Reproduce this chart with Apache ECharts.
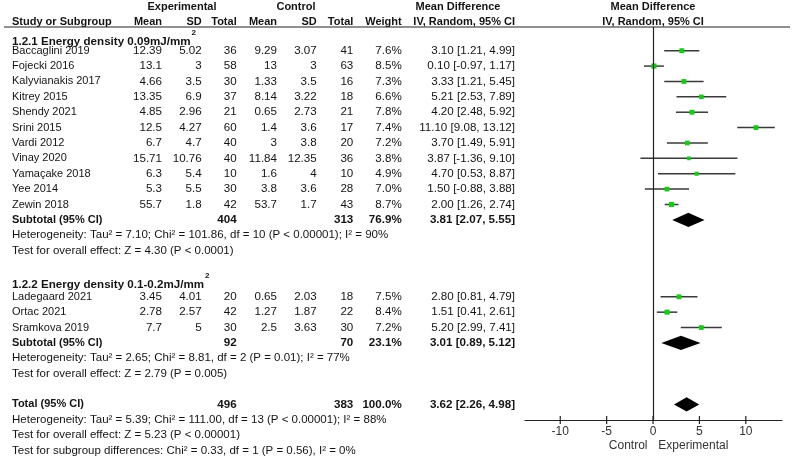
<!DOCTYPE html>
<html>
<head>
<meta charset="utf-8">
<script src="https://cdn.jsdelivr.net/npm/echarts@6/dist/echarts.min.js"></script>
<style>html,body{margin:0;padding:0;background:#fff}#c{width:794px;height:461px}</style>
</head>
<body>
<div id="c"></div>
<script>
// ---------------- DATA ----------------
const studies = ['Baccaglini 2019','Fojecki 2016','Kalyvianakis 2017','Kitrey 2015','Shendy 2021','Srini 2015','Vardi 2012','Vinay 2020','Yamaçake 2018','Yee 2014','Zewin 2018','Ladegaard 2021','Ortac 2021','Sramkova 2019'];
const studyRows = [0,1,2,3,4,5,6,7,8,9,10,16,17,18];
const expMean = [12.39,13.1,4.66,13.35,4.85,12.5,6.7,15.71,6.3,5.3,55.7,3.45,2.78,7.7];
const expSD = [5.02,3,3.5,6.9,2.96,4.27,4.7,10.76,5.4,5.5,1.8,4.01,2.57,5];
const expN = [36,58,30,37,21,60,40,40,10,30,42,20,42,30];
const ctrlMean = [9.29,13,1.33,8.14,0.65,1.4,3,11.84,1.6,3.8,53.7,0.65,1.27,2.5];
const ctrlSD = [3.07,3,3.5,3.22,2.73,3.6,3.8,12.35,4,3.6,1.7,2.03,1.87,3.63];
const ctrlN = [41,63,16,18,21,17,20,36,10,28,43,18,22,30];
const weights = [7.6,8.5,7.3,6.6,7.8,7.4,7.2,3.8,4.9,7.0,8.7,7.5,8.4,7.2];
const md = [3.10,0.10,3.33,5.21,4.20,11.10,3.70,3.87,4.70,1.50,2.00,2.80,1.51,5.20];
const ciLo = [1.21,-0.97,1.21,2.53,2.48,9.08,1.49,-1.36,0.53,-0.88,1.26,0.81,0.41,2.99];
const ciHi = [4.99,1.17,5.45,7.89,5.92,13.12,5.91,9.10,8.87,3.88,2.74,4.79,2.61,7.41];

const pooledLabels = ['Subtotal (95% CI)','Subtotal (95% CI)','Total (95% CI)'];
const pooledRows = [11,19,23];
const pooledExpN = [404,92,496];
const pooledCtrlN = [313,70,383];
const pooledWeight = ['76.9%','23.1%','100.0%'];
const pooledMD = [3.81,3.01,3.62];
const pooledLo = [2.07,0.89,2.26];
const pooledHi = [5.55,5.12,4.98];

const subgroupHeads = ['1.2.1 Energy density 0.09mJ/mm','1.2.2 Energy density 0.1-0.2mJ/mm'];
const subgroupRows = [-0.6,15.2];

const noteRows = [12,13,20,21,24,25,26];
const notes = [
  'Heterogeneity: Tau\u00b2 = 7.10; Chi\u00b2 = 101.86, df = 10 (P < 0.00001); I\u00b2 = 90%',
  'Test for overall effect: Z = 4.30 (P < 0.0001)',
  'Heterogeneity: Tau\u00b2 = 2.65; Chi\u00b2 = 8.81, df = 2 (P = 0.01); I\u00b2 = 77%',
  'Test for overall effect: Z = 2.79 (P = 0.005)',
  'Heterogeneity: Tau\u00b2 = 5.39; Chi\u00b2 = 111.00, df = 13 (P < 0.00001); I\u00b2 = 88%',
  'Test for overall effect: Z = 5.23 (P < 0.00001)',
  'Test for subgroup differences: Chi\u00b2 = 0.33, df = 1 (P = 0.56), I\u00b2 = 0%'
];
const xTicks = [-10,-5,0,5,10];
const axisNames = ['Control','Experimental'];

// ---------------- LAYOUT ----------------
const W = 794, H = 461;
const ROW0 = 50.7, ROWH = 15.38;
const plotTop = 27, plotBottom = 420, plotLeft = 525, plotRight = 782;
const rowAt = py => (py - ROW0) / ROWH;
const col = {name:12, eMean:162, eSD:201.7, eN:236.7, cMean:277, cSD:316.7, cN:353.3, wt:401.7, ci:515,
             expHead:182, ctrlHead:296, mdHead:458, plotHead:653};
const FONT = '"Liberation Sans", Arial, sans-serif';
const TXT = '#141414';
const NUM = 11.6, NOTE = 11.5, NAME = 11, HEAD = 11;

const ctx = document.createElement('canvas').getContext('2d');
function textW(t, f){ ctx.font = f; return ctx.measureText(t).width; }

const items = [];
function add(x, r, t, a, b, size, opt){ items.push(Object.assign({x, r, t, a, b, size, color:TXT}, opt||{})); }
const hr1 = -2.82, hr2 = -1.88;
add(col.expHead, hr1, 'Experimental', 'center', true, HEAD);
add(col.ctrlHead, hr1, 'Control', 'center', true, HEAD);
add(col.mdHead, hr1, 'Mean Difference', 'center', true, HEAD);
add(col.plotHead, hr1, 'Mean Difference', 'center', true, HEAD);
add(col.name, hr2, 'Study or Subgroup', 'left', true, HEAD);
add(col.eMean, hr2, 'Mean', 'right', true, HEAD);
add(col.eSD, hr2, 'SD', 'right', true, HEAD);
add(col.eN, hr2, 'Total', 'right', true, HEAD);
add(col.cMean, hr2, 'Mean', 'right', true, HEAD);
add(col.cSD, hr2, 'SD', 'right', true, HEAD);
add(col.cN, hr2, 'Total', 'right', true, HEAD);
add(col.wt, hr2, 'Weight', 'right', true, HEAD);
add(col.ci, hr2, 'IV, Random, 95% CI', 'right', true, HEAD);
add(col.plotHead, hr2, 'IV, Random, 95% CI', 'center', true, HEAD);
subgroupHeads.forEach((t,i)=>add(col.name, subgroupRows[i], t, 'left', true, 11.6, {sup:'2'}));
const fmtCI = (m,l,h)=> m.toFixed(2)+' ['+l.toFixed(2)+', '+h.toFixed(2)+']';
studies.forEach((s,i)=>{
  const r = studyRows[i];
  add(col.name, r, s, 'left', false, NAME);
  add(col.eMean, r, String(expMean[i]), 'right', false, NUM);
  add(col.eSD, r, String(expSD[i]), 'right', false, NUM);
  add(col.eN, r, String(expN[i]), 'right', false, NUM);
  add(col.cMean, r, String(ctrlMean[i]), 'right', false, NUM);
  add(col.cSD, r, String(ctrlSD[i]), 'right', false, NUM);
  add(col.cN, r, String(ctrlN[i]), 'right', false, NUM);
  add(col.wt, r, weights[i].toFixed(1)+'%', 'right', false, NUM);
  add(col.ci, r, fmtCI(md[i],ciLo[i],ciHi[i]), 'right', false, NUM);
});
pooledLabels.forEach((s,i)=>{
  const r = pooledRows[i];
  add(col.name, r, s, 'left', true, 11);
  add(col.eN, r, String(pooledExpN[i]), 'right', true, NUM);
  add(col.cN, r, String(pooledCtrlN[i]), 'right', true, NUM);
  add(col.wt, r, pooledWeight[i], 'right', true, NUM);
  add(col.ci, r, fmtCI(pooledMD[i],pooledLo[i],pooledHi[i]), 'right', true, NUM);
});
notes.forEach((t,i)=>add(col.name, noteRows[i], t, 'left', false, NOTE));
add(647.5, rowAt(445.5), axisNames[0], 'right', false, 12, {color:'#333'});
add(658.3, rowAt(445.5), axisNames[1], 'left', false, 12, {color:'#333'});

const chart = echarts.init(document.getElementById('c'), null, {renderer:'canvas'});
const option = {
  animation:false,
  backgroundColor:'#fff',
  grid:[
    {left:0, right:0, top:0, bottom:0},
    {left:plotLeft, right:W-plotRight, top:plotTop, bottom:H-plotBottom}
  ],
  xAxis:[
    {gridIndex:0, type:'value', min:0, max:W, show:false},
    {gridIndex:1, type:'value', min:-13.8, max:13.9, position:'bottom',
     axisLine:{show:true, onZero:false, lineStyle:{color:'#222', width:1.2}},
     axisTick:{show:false},
     axisLabel:{show:true, customValues:xTicks, margin:6, fontSize:12, color:'#333', fontFamily:'Liberation Sans'},
     splitLine:{show:false}}
  ],
  yAxis:[
    {gridIndex:0, type:'value', inverse:true, min:rowAt(0), max:rowAt(H), show:false},
    {gridIndex:1, type:'value', inverse:true, min:rowAt(plotTop), max:rowAt(plotBottom), show:false}
  ],
  series:[
    { // header rule
      type:'line', xAxisIndex:0, yAxisIndex:0, symbol:'none', silent:true,
      data:[[4, rowAt(plotTop)], [790, rowAt(plotTop)]],
      lineStyle:{color:'#222', width:1.2}
    },
    { // table text
      type:'custom', xAxisIndex:0, yAxisIndex:0, silent:true,
      data: items.map(it=>[it.x, it.r]),
      renderItem:function(params, api){
        const it = items[params.dataIndex];
        const p = api.coord([api.value(0), api.value(1)]);
        const font = (it.b?'bold ':'') + it.size + 'px ' + FONT;
        const children = [{type:'text', x:p[0], y:p[1],
          style:{text:it.t, font:font, fill:it.color, align:it.a, verticalAlign:'middle'}}];
        if (it.sup){
          const w = textW(it.t, font);
          children.push({type:'text', x:p[0]+w+1, y:p[1]-9,
            style:{text:it.sup, font:'bold 8px '+FONT, fill:it.color, align:'left', verticalAlign:'middle'}});
        }
        return {type:'group', children};
      }
    },
    { // axis ticks crossing the axis line
      type:'custom', xAxisIndex:1, yAxisIndex:1, silent:true, clip:false,
      data: xTicks.map(v=>[v, rowAt(plotBottom)]),
      renderItem:function(params, api){
        const p = api.coord([api.value(0), api.value(1)]);
        return {type:'line', shape:{x1:p[0], y1:p[1]-4, x2:p[0], y2:p[1]+4}, style:{stroke:'#222', lineWidth:1.2}};
      }
    },
    { // study CIs and squares
      type:'custom', xAxisIndex:1, yAxisIndex:1, silent:true,
      data: md.map((m,i)=>[m, studyRows[i], ciLo[i], ciHi[i], weights[i]]),
      renderItem:function(params, api){
        const r = api.value(1);
        const a = api.coord([api.value(2), r]);
        const b = api.coord([api.value(3), r]);
        const c = api.coord([api.value(0), r]);
        const s = 2.6 + api.value(4)*0.3;
        return {type:'group', children:[
          {type:'line', shape:{x1:a[0], y1:a[1], x2:b[0], y2:b[1]}, style:{stroke:'#3a3a3a', lineWidth:1.5}},
          {type:'rect', shape:{x:c[0]-s/2, y:c[1]-s/2, width:s, height:s}, style:{fill:'#14cc14'}}
        ]};
      },
      markLine:{silent:true, symbol:'none', label:{show:false},
        lineStyle:{color:'#222', width:1.2, type:'solid'}, data:[{xAxis:0}]}
    },
    { // pooled diamonds
      type:'custom', xAxisIndex:1, yAxisIndex:1, silent:true,
      data: pooledMD.map((m,i)=>[m, pooledRows[i], pooledLo[i], pooledHi[i]]),
      renderItem:function(params, api){
        const r = api.value(1);
        const l = api.coord([api.value(2), r]);
        const h = api.coord([api.value(3), r]);
        const t = api.coord([api.value(0), r-0.46]);
        const b = api.coord([api.value(0), r+0.46]);
        return {type:'polygon', shape:{points:[l, t, h, b]}, style:{fill:'#000'}};
      }
    }
  ]
};
chart.setOption(option);
</script>
</body>
</html>
